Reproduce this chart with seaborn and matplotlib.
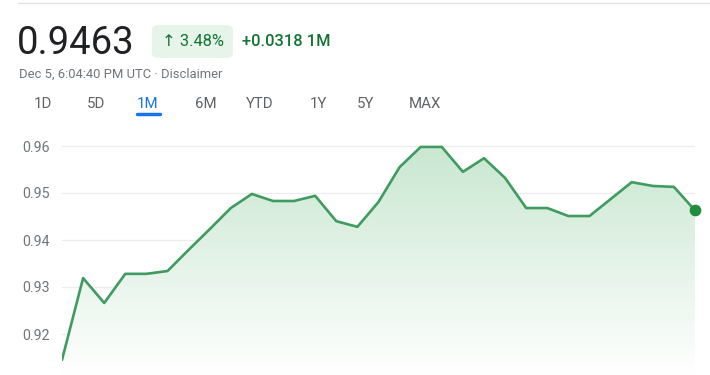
import numpy as np
import pandas as pd
import matplotlib
matplotlib.use("Agg")
import matplotlib.pyplot as plt
import seaborn as sns
from matplotlib.patches import FancyBboxPatch, Polygon
from matplotlib.colors import LinearSegmentedColormap

# ---- data ----
day_index = list(range(31))
prices = [0.9145, 0.9319, 0.9266, 0.9328, 0.9328, 0.9334, 0.9379, 0.9423,
          0.9468, 0.9498, 0.9483, 0.9483, 0.9494, 0.9440, 0.9428, 0.9481,
          0.9555, 0.9598, 0.9598, 0.9545, 0.9574, 0.9532, 0.9468, 0.9468,
          0.9451, 0.9451, 0.9487, 0.9523, 0.9515, 0.9513, 0.9463]
y_ticks = [0.92, 0.93, 0.94, 0.95, 0.96]
y_tick_labels = ["0.92", "0.93", "0.94", "0.95", "0.96"]
tabs = ["1D", "5D", "1M", "6M", "YTD", "1Y", "5Y", "MAX"]
price_text = "0.9463"
pct_text = "↑ 3.48%"
change_text = "+0.0318 1M"
date_text = "Dec 5, 6:04:40 PM UTC · Disclaimer"

df = pd.DataFrame({"day": day_index, "price": prices})

sns.set_theme(style="white")
plt.rcParams['font.family'] = ['Roboto', 'DejaVu Sans']

W, H = 710, 375
fig = plt.figure(figsize=(W / 100, H / 100), dpi=100)

def fx(px):
    return px / W

def fy(py):
    return 1 - py / H

# axes: x from 62 to 695 px, y from 125 to 375 px
ax = fig.add_axes([fx(62), 0, fx(695) - fx(62), fy(125)])
ax.set_xlim(0, 30)
ymin = 0.92 - 41 / 4700
ymax = 0.96 + 21 / 4700
ax.set_ylim(ymin, ymax)

line_color = "#3f9b5f"

# gradient fill under the line
grad = np.linspace(0, 1, 256).reshape(-1, 1)
cmap = LinearSegmentedColormap.from_list("g", ["#ffffff", "#c9e7d1"])
top_val = max(prices)
im = ax.imshow(grad, extent=[0, 30, ymin, top_val], origin="lower", aspect="auto",
               cmap=cmap, zorder=1, vmin=0, vmax=1)
verts = [(0, ymin)] + list(zip(day_index, prices)) + [(30, ymin)]
clip = Polygon(verts, closed=True, transform=ax.transData, facecolor="none", edgecolor="none")
ax.add_patch(clip)
im.set_clip_path(clip)

sns.lineplot(data=df, x="day", y="price", ax=ax, color=line_color, linewidth=1.9, zorder=3)
ax.scatter([day_index[-1]], [prices[-1]], s=55, color="#1e8e3e", zorder=4, clip_on=False)

for t in y_ticks:
    ax.axhline(t, color="#ececec", linewidth=0.9, zorder=0)

ax.set_yticks(y_ticks)
ax.set_yticklabels(y_tick_labels, color="#70757a", fontsize=10.2)
ax.tick_params(axis="y", length=0, pad=9)
ax.set_xticks([])
ax.set_xlabel("")
ax.set_ylabel("")
for s in ax.spines.values():
    s.set_visible(False)
ax.patch.set_alpha(0)

# ---- header texts ----
fig.add_artist(plt.Line2D([fx(18), 1], [fy(3), fy(3)], color="#e3e3e3", linewidth=1))
fig.text(fx(17), fy(44), price_text, fontsize=27.5, color="#202124", va="center", ha="left")

badge = FancyBboxPatch((fx(152), fy(58)), fx(233) - fx(152), fy(25) - fy(58),
                       boxstyle="round,pad=0,rounding_size=0.012", transform=fig.transFigure,
                       facecolor="#e6f4ea", edgecolor="none")
fig.add_artist(badge)
fig.text(fx(162), fy(42), pct_text, fontsize=11.8, color="#137333", va="center", ha="left",
         family=['Roboto', 'DejaVu Sans'])
fig.text(fx(242), fy(42), change_text, fontsize=11.8, color="#137333", va="center", ha="left",
         fontweight="medium")
fig.text(fx(19), fy(74), date_text, fontsize=9.4, color="#70757a", va="center", ha="left")

tab_x = [43, 96, 148, 206, 260, 318, 366, 425]
for lbl, x in zip(tabs, tab_x):
    col = "#1a73e8" if lbl == "1M" else "#5f6368"
    fig.text(fx(x), fy(104), lbl, fontsize=10.8, color=col, va="center", ha="center")
fig.add_artist(plt.Line2D([fx(137), fx(160)], [fy(114), fy(114)], color="#1a73e8",
                          linewidth=2.5, solid_capstyle="round"))

fig.savefig("out.png", dpi=100)
